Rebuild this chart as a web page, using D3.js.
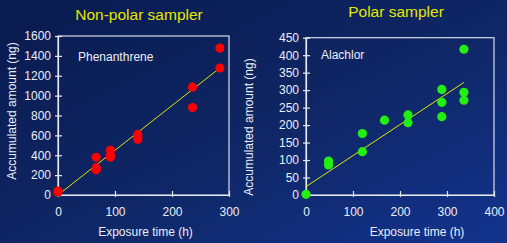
<!DOCTYPE html>
<html>
<head>
<meta charset="utf-8">
<script src="https://cdn.jsdelivr.net/npm/d3@7"></script>
<style>
  body { margin: 0; background: #0c1f5e; }
  svg { display: block; font-family: "Liberation Sans", Arial, sans-serif; }
</style>
</head>
<body>
<svg id="chart" width="507" height="243"></svg>
<script>
// Non-polar sampler, phenanthrene
var npTime = [0, 0, 67, 67, 67, 92, 92, 92, 140, 140, 140, 236, 236, 284, 284];
var npAmount = [30, 40, 380, 275, 255, 450, 400, 380, 610, 580, 560, 1085, 880, 1478, 1278];
var npFit = [[0, 0], [284, 1278]];
var npXTicks = [0, 100, 200, 300];
var npYTicks = [0, 200, 400, 600, 800, 1000, 1200, 1400, 1600];

// Polar sampler, alachlor
var pTime = [0, 48, 48, 120, 120, 167, 217, 217, 289, 289, 289, 336, 336, 336];
var pAmount = [2, 97, 86, 176, 124, 214, 229, 207, 302, 265, 224, 417, 294, 271];
var pFit = [[0, 24], [336, 322]];
var pXTicks = [0, 100, 200, 300, 400];
var pYTicks = [0, 50, 100, 150, 200, 250, 300, 350, 400, 450];

var svg = d3.select("#chart");

var defs = svg.append("defs");
var grad = defs.append("linearGradient")
    .attr("id", "bg")
    .attr("x1", "0").attr("y1", "0")
    .attr("x2", "1").attr("y2", "1");
grad.append("stop").attr("offset", "0%").attr("stop-color", "#091a4e");
grad.append("stop").attr("offset", "55%").attr("stop-color", "#0f2766");
grad.append("stop").attr("offset", "100%").attr("stop-color", "#13338e");

svg.append("rect")
    .attr("width", 507).attr("height", 243)
    .attr("fill", "url(#bg)");

function panel(opt) {
  var x = d3.scaleLinear().domain(opt.xDomain).range([opt.left, opt.right]);
  var y = d3.scaleLinear().domain(opt.yDomain).range([opt.bottom, opt.top]);
  var g = svg.append("g");

  // frame
  g.append("rect")
      .attr("x", opt.left).attr("y", opt.top)
      .attr("width", opt.right - opt.left)
      .attr("height", opt.bottom - opt.top)
      .attr("fill", "none")
      .attr("stroke", "#d8dcea")
      .attr("stroke-width", 1.2);

  var xAxis = g.append("g")
      .attr("transform", "translate(0," + opt.bottom + ")")
      .call(d3.axisBottom(x).tickValues(opt.xTicks).tickFormat(d3.format("d"))
        .tickSizeInner(-4).tickSizeOuter(0).tickPadding(12));
  xAxis.selectAll(".tick line").attr("y1", 2);

  var yAxis = g.append("g")
      .attr("transform", "translate(" + opt.left + ",0)")
      .call(d3.axisLeft(y).tickValues(opt.yTicks).tickFormat(d3.format("d"))
        .tickSizeInner(-4).tickSizeOuter(0).tickPadding(7));
  yAxis.selectAll(".tick line").attr("x1", -3);

  g.selectAll(".domain").attr("stroke", "#e6e8f2").attr("stroke-width", 1.2);
  g.selectAll(".tick line").attr("stroke", "#e6e8f2").attr("stroke-width", 1.2);
  g.selectAll(".tick text")
      .attr("fill", "#eceef6")
      .style("font-size", "12px")
      .style("font-family", "Liberation Sans, Arial, sans-serif");

  // fit line
  g.append("path")
      .datum(opt.fit)
      .attr("d", d3.line().x(d => x(d[0])).y(d => y(d[1])))
      .attr("stroke", "#e4e400")
      .attr("stroke-width", 1)
      .attr("fill", "none");

  // points
  g.selectAll("circle.pt")
      .data(opt.xs.map((t, i) => [t, opt.ys[i]]))
      .enter().append("circle")
        .attr("class", "pt")
        .attr("cx", d => x(d[0]))
        .attr("cy", d => y(d[1]))
        .attr("r", 4.6)
        .attr("fill", opt.color);

  // compound name
  g.append("text")
      .attr("x", opt.nameX).attr("y", opt.nameY)
      .attr("fill", "#eceef6")
      .style("font-size", "12px")
      .text(opt.name);

  // title
  g.append("text")
      .attr("x", opt.titleX).attr("y", opt.titleY)
      .attr("text-anchor", "middle")
      .attr("fill", "#e6e600")
      .style("font-size", "15.5px")
      .text(opt.title);

  // axis titles
  g.append("text")
      .attr("x", (opt.left + opt.right) / 2 + opt.xTitleShift)
      .attr("y", 236)
      .attr("text-anchor", "middle")
      .attr("fill", "#eceef6")
      .style("font-size", "12px")
      .text("Exposure time (h)");

  g.append("text")
      .attr("transform", "translate(" + opt.yTitleX + "," + opt.yTitleY + ") rotate(-90)")
      .attr("text-anchor", "middle")
      .attr("fill", "#eceef6")
      .style("font-size", "12px")
      .text("Accumulated amount (ng)");
}

panel({
  xDomain: [0, 300], yDomain: [0, 1600],
  left: 58, right: 229, top: 36, bottom: 195,
  xTicks: npXTicks, yTicks: npYTicks,
  xs: npTime, ys: npAmount, fit: npFit,
  color: "#ff0000",
  name: "Phenanthrene", nameX: 78, nameY: 61,
  title: "Non-polar sampler", titleX: 139, titleY: 20,
  xTitleShift: 2,
  yTitleX: 16, yTitleY: 111
});

panel({
  xDomain: [0, 400], yDomain: [0, 450],
  left: 306, right: 494, top: 37.7, bottom: 195,
  xTicks: pXTicks, yTicks: pYTicks,
  xs: pTime, ys: pAmount, fit: pFit,
  color: "#22ee11",
  name: "Alachlor", nameX: 321, nameY: 59,
  title: "Polar sampler", titleX: 396, titleY: 17,
  xTitleShift: 17,
  yTitleX: 253, yTitleY: 127
});
</script>
</body>
</html>
